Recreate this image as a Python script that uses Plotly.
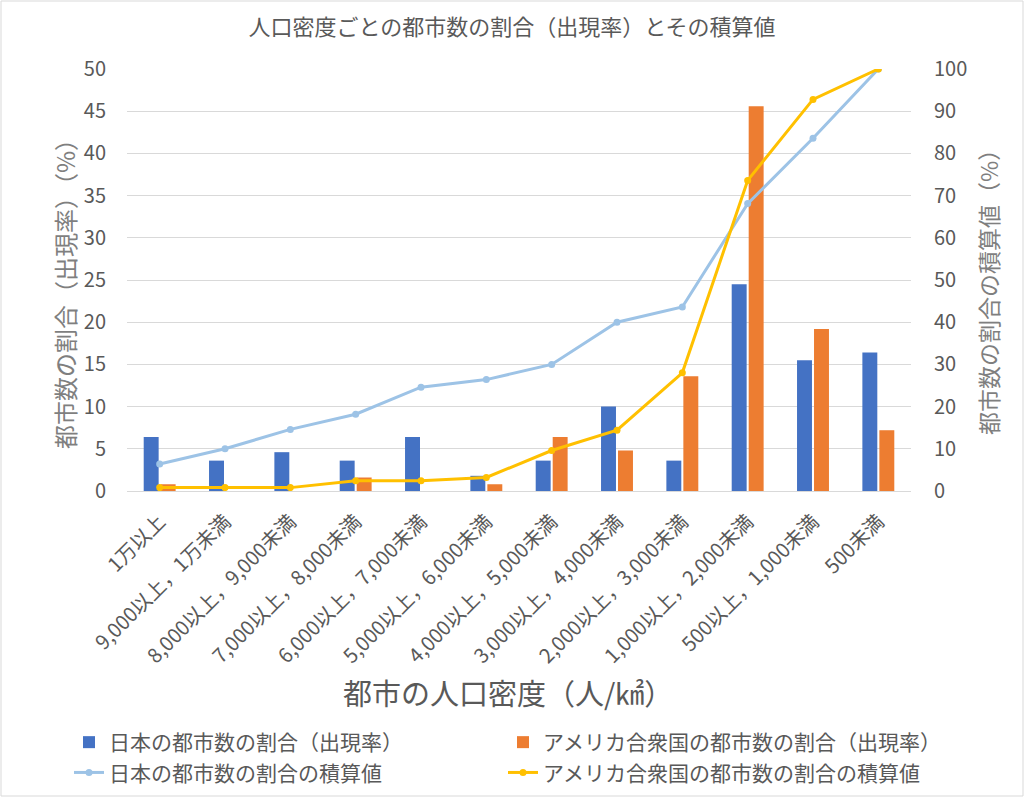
import plotly.graph_objects as go

categories = [
    "1万以上",
    "9,000以上，1万未満",
    "8,000以上，9,000未満",
    "7,000以上，8,000未満",
    "6,000以上，7,000未満",
    "5,000以上，6,000未満",
    "4,000以上，5,000未満",
    "3,000以上，4,000未満",
    "2,000以上，3,000未満",
    "1,000以上，2,000未満",
    "500以上，1,000未満",
    "500未満",
]
japan_share = [6.4, 3.6, 4.6, 3.6, 6.4, 1.8, 3.6, 10.0, 3.6, 24.5, 15.5, 16.4]
us_share = [0.8, 0.0, 0.0, 1.6, 0.0, 0.8, 6.4, 4.8, 13.6, 45.6, 19.2, 7.2]
japan_cum = [6.4, 10.0, 14.6, 18.2, 24.6, 26.4, 30.0, 40.0, 43.6, 68.1, 83.6, 100.0]
us_cum = [0.8, 0.8, 0.8, 2.4, 2.4, 3.2, 9.6, 14.4, 28.0, 73.6, 92.8, 100.0]

FONT = "Noto Sans CJK JP"
GRAY = "#595959"

W, H = 1024, 797
L, R, T, B = 127, 113, 69, 306
PW, PH = W - L - R, H - T - B

fig = go.Figure()
fig.add_trace(go.Bar(x=categories, y=japan_share, name="日本の都市数の割合（出現率）",
                     marker=dict(color="#4472C4", line=dict(width=0)), legend="legend"))
fig.add_trace(go.Bar(x=categories, y=us_share, name="アメリカ合衆国の都市数の割合（出現率）",
                     marker=dict(color="#ED7D31", line=dict(width=0)), legend="legend2"))
fig.add_trace(go.Scatter(x=categories, y=japan_cum, name="日本の都市数の割合の積算値",
                         yaxis="y2", mode="lines+markers", legend="legend",
                         line=dict(color="#9DC3E6", width=3),
                         marker=dict(color="#9DC3E6", size=7)))
fig.add_trace(go.Scatter(x=categories, y=us_cum, name="アメリカ合衆国の都市数の割合の積算値",
                         yaxis="y2", mode="lines+markers", legend="legend2",
                         line=dict(color="#FFC000", width=3),
                         marker=dict(color="#FFC000", size=7)))

legend_common = dict(orientation="v", yanchor="top", yref="paper", xanchor="left",
                     font=dict(size=21, color=GRAY, family=FONT),
                     traceorder="normal", itemwidth=30, tracegroupgap=0,
                     bgcolor="rgba(0,0,0,0)")
leg_y = -(722 - T - PH) / PH

fig.update_layout(
    width=W, height=H,
    margin=dict(l=L, r=R, t=T, b=B, autoexpand=False),
    paper_bgcolor="white", plot_bgcolor="white",
    font=dict(family=FONT, color=GRAY, size=17),
    title=dict(text="人口密度ごとの都市数の割合（出現率）とその積算値",
               x=(512 - L) / PW, xref="paper", xanchor="center", y=1 - 27 / H, yanchor="middle",
               font=dict(size=22, color=GRAY, family=FONT)),
    barmode="group", bargap=0.48, bargroupgap=0.12,
    xaxis=dict(type="category", range=[-0.5, 11.5], autorange=False, tickangle=-45,
               showgrid=False, showline=True, linecolor="#D9D9D9", linewidth=1,
               ticks="", tickfont=dict(size=20, color=GRAY),
               ticklabelstandoff=10, automargin=False),
    yaxis=dict(range=[0, 50], dtick=5, showgrid=True, gridcolor="#D9D9D9", gridwidth=1,
               zeroline=False, showline=False, ticks="",
               tickfont=dict(size=20, color=GRAY), ticklabelstandoff=20, automargin=False),
    yaxis2=dict(range=[0, 100], dtick=10, overlaying="y", side="right", showgrid=False,
                zeroline=False, showline=False, ticks="",
                tickfont=dict(size=20, color=GRAY), ticklabelstandoff=22, automargin=False),
    showlegend=True,
    legend=dict(x=(69 - L) / PW, y=leg_y, **legend_common),
    legend2=dict(x=(503 - L) / PW, y=leg_y, **legend_common),
    annotations=[
        dict(text="都市の人口密度（人/㎢）", xref="paper", yref="paper",
             x=(508 - L) / PW, y=0, yshift=-(692 - (T + PH)), xanchor="center", yanchor="middle",
             showarrow=False, font=dict(size=29, color=GRAY, family=FONT)),
        dict(text="都市数の割合（出現率）（%）", xref="paper", yref="paper",
             x=0, xshift=64 - L, y=(H - B - 288) / PH, textangle=-90,
             xanchor="center", yanchor="middle",
             showarrow=False, font=dict(size=24, color="#7F7F7F", family=FONT)),
        dict(text="都市数の割合の積算値（%）", xref="paper", yref="paper",
             x=1, xshift=988 - (L + PW), y=(H - B - 287) / PH, textangle=-90,
             xanchor="center", yanchor="middle",
             showarrow=False, font=dict(size=23, color="#7F7F7F", family=FONT)),
    ],
    shapes=[
        dict(type="rect", xref="paper", yref="paper",
             x0=(1 - L) / PW, x1=(W - 1 - L) / PW,
             y0=-(H - 1 - T - PH) / PH, y1=(T - 1 + PH) / PH,
             line=dict(color="#D9D9D9", width=1), layer="below"),
    ],
)

fig.write_html("out.html")
